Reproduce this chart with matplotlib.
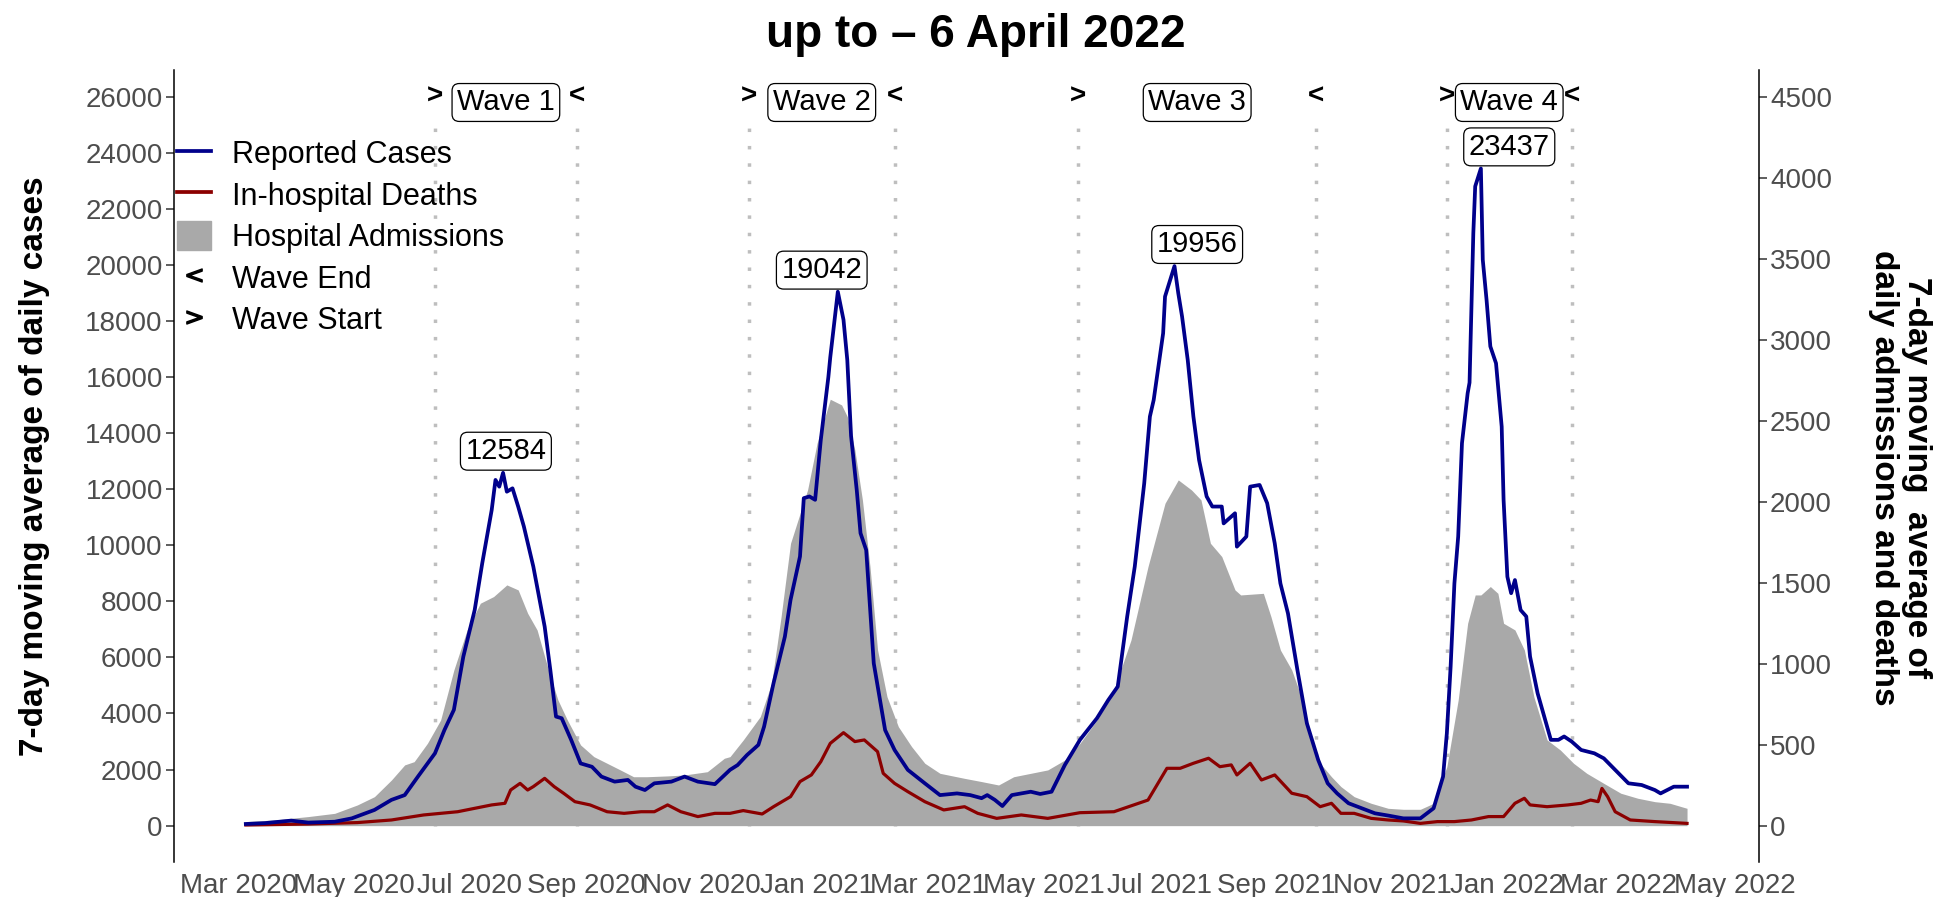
# Casos, ingresos y muertes hospitalarias (media movil 7 dias) con olas marcadas
import pandas as pd
import numpy as np
import matplotlib
matplotlib.use('Agg')
import matplotlib.pyplot as plt
import matplotlib.dates as mdates
from matplotlib.lines import Line2D
from matplotlib.patches import Patch

plt.rcParams['font.family'] = ['Liberation Sans', 'DejaVu Sans']

# Dias contados desde el 1 de marzo de 2020
inicio = pd.Timestamp('2020-03-01')

dias_casos = [4, 14, 28, 37, 51, 60, 72, 81, 88, 95, 104, 109, 114, 119, 125, 129, 134, 136, 138, 140,
              142, 145, 148, 151, 156, 162, 165, 168, 171, 176, 181, 187, 192, 199, 206, 210, 215, 220,
              229, 236, 243, 252, 257, 260, 264, 269, 275, 278, 283, 289, 292, 297, 299, 302, 305, 308,
              312, 313, 317, 320, 322, 324, 327, 329, 332, 336, 342, 347, 354, 363, 371, 380, 387, 393,
              396, 400, 404, 409, 419, 424, 430, 437, 445, 454, 460, 465, 470, 474, 479, 482, 484, 487,
              489, 490, 495, 497, 499, 502, 505, 508, 512, 515, 520, 521, 527, 528, 533, 535, 540, 544,
              548, 551, 555, 560, 565, 571, 576, 581, 587, 594, 601, 608, 616, 625, 632, 637, 639, 641,
              643, 645, 647, 650, 651, 653, 654, 657, 658, 660, 662, 665, 668, 669, 671, 673, 675, 678,
              681, 683, 687, 691, 694, 698, 701, 705, 710, 717, 722, 728, 735, 742, 749, 752, 759, 766]
casos = [60, 90, 180, 110, 140, 260, 560, 920, 1090, 1750, 2580, 3410, 4130, 6030, 7690, 9360, 11260,
         12330, 12090, 12584, 11910, 12030, 11380, 10670, 9240, 7100, 5550, 3890, 3830, 3060, 2220, 2100,
         1750, 1570, 1630, 1390, 1270, 1510, 1570, 1750, 1570, 1480, 1800, 1990, 2160, 2520, 2880, 3530,
         5080, 6740, 8050, 9600, 11680, 11740, 11620, 13760, 16000, 16700, 19042, 18040, 16610, 13900,
         11970, 10430, 9830, 5790, 3410, 2700, 1990, 1510, 1090, 1150, 1090, 980, 1090, 920, 700, 1090,
         1210, 1130, 1210, 2160, 3060, 3830, 4480, 4960, 7460, 9240, 12210, 14590, 15180, 16610, 17560,
         18870, 19956, 18990, 18160, 16610, 14590, 13040, 11740, 11380, 11380, 10780, 11140, 9950, 10310,
         12090, 12150, 11500, 10070, 8640, 7570, 5550, 3650, 2340, 1510, 1150, 800, 620, 440, 360, 260,
         260, 620, 1750, 3290, 5670, 8640, 10310, 13640, 15420, 15800, 21130, 22800, 23437, 20180, 18750,
         17090, 16490, 14230, 11620, 8880, 8290, 8760, 7690, 7460, 6030, 4720, 3770, 3060, 3060, 3180,
         3000, 2700, 2580, 2400, 1990, 1510, 1450, 1270, 1150, 1390, 1390]

dias_muertes = [4, 37, 63, 81, 98, 116, 134, 141, 144, 149, 153, 156, 162, 167, 172, 178, 186, 195, 204,
                213, 220, 227, 234, 243, 252, 260, 267, 277, 283, 292, 297, 303, 308, 313, 320, 326, 331,
                338, 341, 347, 354, 363, 373, 384, 391, 401, 414, 428, 445, 463, 481, 491, 498, 505, 513,
                519, 525, 528, 535, 541, 548, 557, 565, 572, 578, 583, 590, 599, 608, 616, 625, 634, 643,
                652, 661, 669, 675, 680, 683, 692, 703, 710, 715, 719, 721, 724, 728, 736, 749, 766]
muertes = [4, 10, 19, 35, 66, 86, 128, 138, 220, 261, 220, 241, 292, 241, 200, 148, 128, 86, 76, 86, 86,
           128, 86, 56, 76, 76, 93, 72, 117, 179, 272, 313, 395, 508, 574, 519, 529, 457, 323, 261, 210,
           148, 97, 117, 76, 45, 66, 45, 80, 86, 158, 354, 354, 385, 416, 364, 375, 313, 385, 282, 313,
           200, 179, 117, 138, 76, 76, 45, 35, 29, 14, 25, 25, 35, 56, 56, 138, 169, 128, 117, 128, 138,
           158, 148, 230, 179, 86, 35, 25, 14]

dias_ingresos = [4, 19, 37, 51, 63, 72, 81, 88, 93, 100, 107, 114, 121, 128, 135, 142, 148, 153, 158, 164,
                 169, 174, 181, 188, 195, 202, 209, 216, 227, 236, 248, 257, 260, 267, 276, 282, 287, 292,
                 301, 306, 313, 319, 322, 326, 330, 334, 338, 343, 349, 356, 363, 371, 384, 393, 402, 410,
                 419, 428, 437, 445, 454, 463, 472, 481, 490, 497, 504, 509, 514, 520, 527, 530, 542, 546,
                 551, 557, 562, 567, 572, 578, 583, 590, 599, 608, 616, 625, 632, 639, 645, 650, 654, 657,
                 662, 666, 669, 675, 680, 685, 692, 699, 706, 713, 722, 731, 740, 749, 757, 766]
ingresos = [25, 35, 56, 76, 128, 179, 282, 375, 395, 508, 652, 961, 1208, 1373, 1414, 1486, 1455, 1311,
            1208, 961, 776, 652, 498, 426, 385, 344, 302, 302, 307, 313, 333, 416, 426, 529, 673, 879, 1290,
            1743, 2072, 2360, 2632, 2597, 2525, 2319, 2011, 1599, 1085, 796, 611, 488, 385, 323, 292, 272,
            251, 302, 323, 344, 405, 508, 652, 838, 1146, 1599, 1990, 2134, 2072, 2011, 1743, 1661, 1455,
            1424, 1434, 1290, 1084, 961, 796, 570, 385, 302, 241, 179, 138, 107, 101, 101, 138, 364, 776,
            1249, 1424, 1424, 1476, 1434, 1249, 1208, 1084, 796, 529, 467, 385, 323, 261, 200, 169, 148,
            138, 107]

# Inicio y fin de cada ola
olas = ['Wave 1', 'Wave 2', 'Wave 3', 'Wave 4']
ola_inicio = pd.to_datetime(['2020-06-13', '2020-11-26', '2021-05-19', '2021-11-30'])
ola_fin = pd.to_datetime(['2020-08-27', '2021-02-11', '2021-09-22', '2022-02-04'])

escala = 26000 / 4500  # eje derecho -> eje izquierdo

fechas_casos = inicio + pd.to_timedelta(dias_casos, unit='D')
fechas_muertes = inicio + pd.to_timedelta(dias_muertes, unit='D')
fechas_ingresos = inicio + pd.to_timedelta(dias_ingresos, unit='D')
serie_casos = pd.Series(casos, index=fechas_casos)

fig = plt.figure(figsize=(19.35, 8.97), dpi=100)
ax = fig.add_axes([0.0899, 0.0394, 0.8191, 0.8826])

# lineas punteadas de inicio/fin de ola
for a, b in zip(ola_inicio, ola_fin):
    ax.plot([a, a], [0, 25300], color='#BEBEBE', lw=2.5, ls=(0, (1, 4)), zorder=1)
    ax.plot([b, b], [0, 25300], color='#BEBEBE', lw=2.5, ls=(0, (1, 4)), zorder=1)

ax.fill_between(fechas_ingresos, 0, np.array(ingresos) * escala, color='#A9A9A9', lw=0, zorder=2)
ax.plot(fechas_muertes, np.array(muertes) * escala, color='#8B0000', lw=2.3, zorder=3)
ax.plot(fechas_casos, casos, color='#00008B', lw=2.7, zorder=4)

caja = dict(boxstyle='round,pad=0.17,rounding_size=0.25', fc='white', ec='black', lw=0.9)
for nombre, a, b in zip(olas, ola_inicio, ola_fin):
    medio = a + (b - a) / 2
    ax.text(a, 26000, '>', ha='center', va='center', fontsize=20, fontweight='bold', zorder=5)
    ax.text(b, 26000, '<', ha='center', va='center', fontsize=20, fontweight='bold', zorder=5)
    ax.text(medio, 25790, nombre, ha='center', va='center', fontsize=21, bbox=caja, zorder=6)
    pico = serie_casos[a:b].max()
    ax.text(medio, pico + 770, str(pico), ha='center', va='center', fontsize=21, bbox=caja, zorder=6)

ax.set_xlim(pd.Timestamp('2020-01-27'), pd.Timestamp('2022-05-14'))
ax.set_ylim(-1284, 26950)
ax.set_yticks(range(0, 26001, 2000))
ax.xaxis.set_major_locator(mdates.MonthLocator(bymonth=[1, 3, 5, 7, 9, 11]))
ax.xaxis.set_major_formatter(mdates.DateFormatter('%b %Y'))

for lado in ['top', 'bottom', 'right']:
    ax.spines[lado].set_visible(False)
ax.spines['left'].set_linewidth(1.1)
ax.tick_params(axis='y', length=6, width=1.1, color='#333333', labelsize=20, labelcolor='#4D4D4D', pad=2)
ax.tick_params(axis='x', length=0, labelsize=20, labelcolor='#4D4D4D', pad=8)

sec = ax.secondary_yaxis('right', functions=(lambda v: v / escala, lambda v: v * escala))
sec.set_yticks(range(0, 4501, 500))
sec.spines['right'].set_linewidth(1.1)
sec.tick_params(length=6, width=1.1, color='#333333', labelsize=20, labelcolor='#4D4D4D', pad=2)

manejadores = [Line2D([], [], color='#00008B', lw=2.7),
               Line2D([], [], color='#8B0000', lw=2.7),
               Patch(color='#A9A9A9'),
               Line2D([], [], ls='none', marker='$<$', color='black', markersize=11),
               Line2D([], [], ls='none', marker='$>$', color='black', markersize=11)]
etiquetas = ['Reported Cases', 'In-hospital Deaths', 'Hospital Admissions', 'Wave End', 'Wave Start']
ax.legend(manejadores, etiquetas, loc='upper left', bbox_to_anchor=(0.002, 0.914), frameon=False,
          fontsize=22, handlelength=1.1, handleheight=1.1, handletextpad=0.7, labelspacing=0.31,
          borderpad=0, borderaxespad=0)

fig.text(34.5 / 1935, 1 - 466 / 897, '7-day moving average of daily cases', rotation=90, ha='center',
         va='center', fontsize=24, fontweight='bold')
fig.text(1900 / 1935, 1 - 478 / 897, '7-day moving  average of\ndaily admissions and deaths',
         rotation=-90, ha='center', va='center', fontsize=24, fontweight='bold', linespacing=1.1)
fig.text(976 / 1935, 1 - 35 / 897, 'up to – 6 April 2022', ha='center', va='center', fontsize=33,
         fontweight='bold')

fig.savefig('out.png', dpi=100)
plt.close(fig)
